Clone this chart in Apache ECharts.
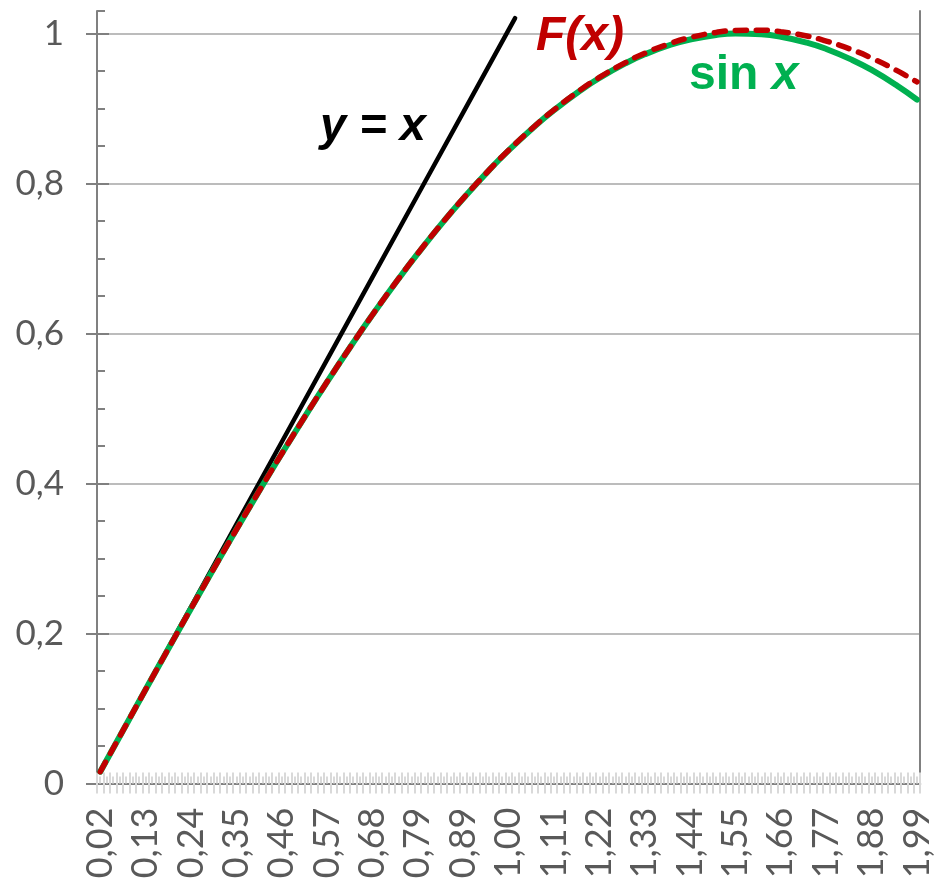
<!DOCTYPE html>
<html><head><meta charset="utf-8">
<script src="https://cdn.jsdelivr.net/npm/echarts@6/dist/echarts.min.js"></script>
<style>html,body{margin:0;padding:0;background:#fff}#chart{width:935px;height:883px}</style>
</head><body><div id="chart"></div>
<script>
// x categories: 127 points, a label every 7th one
const xTickLabels = ['0,02','0,13','0,24','0,35','0,46','0,57','0,68','0,79','0,89','1,00','1,11','1,22','1,33','1,44','1,55','1,66','1,77','1,88','1,99'];
const categoryCount = 127;
const labelEvery = 7;
const yTicks = [0, 0.2, 0.4, 0.6, 0.8, 1];

// values at category indices
const sampleIdx = [0,4,7,11,14,18,21,25,28,32,35,39,42,46,49,53,56,60,63,67,70,74,77,81,84,88,91,95,98,102,105,109,112,116,119,123,126];
const sinValues = [0.0157,0.0784,0.1253,0.1873,0.2333,0.2939,0.3386,0.3970,0.4397,0.4952,0.5356,0.5875,0.6250,0.6727,0.7068,0.7498,0.7801,0.8179,0.8441,0.8760,0.8978,0.9237,0.9407,0.9601,0.9722,0.9850,0.9920,0.9980,0.9999,0.9989,0.9956,0.9878,0.9794,0.9648,0.9514,0.9301,0.9118];
const fValues   = [0.0157,0.0784,0.1253,0.1873,0.2333,0.2939,0.3386,0.3970,0.4397,0.4952,0.5356,0.5875,0.6250,0.6728,0.7069,0.7499,0.7802,0.8180,0.8443,0.8764,0.8982,0.9243,0.9415,0.9612,0.9737,0.9870,0.9946,1.0014,1.0041,1.0045,1.0024,0.9966,0.9899,0.9782,0.9673,0.9501,0.9354];
const lineIdx    = [0,7,14,21,28,35,42,49,56,63,64];
const lineValues = [0.0157,0.1256,0.2355,0.3454,0.4553,0.5652,0.6751,0.7850,0.8949,1.0048,1.0205];

const cats = Array.from({length: categoryCount}, (_, i) => String(i));
const halfCats = Array.from({length: categoryCount * 2}, (_, i) => 'h' + i);

const AX = '#808080', GRID = '#bcbcbc', LIGHT = '#d9d9d9', TXT = '#595959';
const fmtY = v => String(+(+v).toFixed(2)).replace('.', ',');

const chart = echarts.init(document.getElementById('chart'), null, {renderer: 'canvas'});
chart.setOption({
  animation: false,
  backgroundColor: '#fff',
  grid: {left: 97, right: 13, top: 11, bottom: 99.5, containLabel: false},
  xAxis: [
    { type: 'category', data: cats, position: 'bottom', boundaryGap: true,
      axisLine: {show: true, lineStyle: {color: LIGHT, width: 2}},
      axisTick: {show: true, inside: false, length: 10, interval: 0, lineStyle: {color: LIGHT, width: 2}},
      axisLabel: {show: true, interval: labelEvery - 1, rotate: 90, margin: 24, color: TXT,
        fontFamily: 'Lato', fontSize: 36,
        formatter: (v, i) => (i % labelEvery === 0 ? xTickLabels[i / labelEvery] : '')},
      splitLine: {show: false} },
    { type: 'category', data: cats, position: 'bottom', boundaryGap: true,
      axisLine: {show: false},
      axisTick: {show: true, inside: true, length: 11, interval: 0, lineStyle: {color: LIGHT, width: 2}},
      axisLabel: {show: false}, splitLine: {show: false} },
    { type: 'category', data: halfCats, position: 'bottom', boundaryGap: true,
      axisLine: {show: false},
      axisTick: {show: true, inside: true, length: 7, interval: 0, lineStyle: {color: LIGHT, width: 2}},
      axisLabel: {show: false}, splitLine: {show: false} },
    { type: 'category', data: cats, position: 'top', boundaryGap: true,
      axisLine: {show: true, lineStyle: {color: AX, width: 2}},
      axisTick: {show: false}, axisLabel: {show: false}, splitLine: {show: false} }
  ],
  yAxis: [
    { type: 'value', min: 0, max: 1.03, interval: 0.2, position: 'left',
      axisLine: {show: true, onZero: false, lineStyle: {color: AX, width: 2}},
      axisTick: {show: true, inside: false, length: 11, customValues: yTicks, lineStyle: {color: AX, width: 2}},
      axisLabel: {show: true, customValues: yTicks, margin: 33, color: TXT, fontFamily: 'Lato', fontSize: 35, formatter: fmtY},
      splitLine: {show: true, lineStyle: {color: GRID, width: 2}} },
    { type: 'value', min: 0, max: 1.03, interval: 0.05, position: 'left',
      axisLine: {show: false},
      axisTick: {show: true, inside: true, length: 8, lineStyle: {color: AX, width: 2}},
      axisLabel: {show: false}, splitLine: {show: false} },
    { type: 'value', min: 0, max: 1.03, interval: 0.2, position: 'left',
      axisLine: {show: false},
      axisTick: {show: true, inside: true, length: 12, customValues: yTicks, lineStyle: {color: AX, width: 2}},
      axisLabel: {show: false}, splitLine: {show: false} },
    { type: 'value', min: 0, max: 1.03, position: 'right',
      axisLine: {show: true, lineStyle: {color: AX, width: 2}},
      axisTick: {show: false}, axisLabel: {show: false}, splitLine: {show: false} }
  ],
  series: [
    { name: 'y = x', type: 'line', xAxisIndex: 0, yAxisIndex: 0, symbol: 'none', z: 3,
      data: lineIdx.map((k, i) => [k, lineValues[i]]),
      lineStyle: {color: '#000000', width: 4.5, cap: 'round'} },
    { name: 'sin x', type: 'line', xAxisIndex: 0, yAxisIndex: 0, symbol: 'none', smooth: true, z: 4,
      data: sampleIdx.map((k, i) => [k, sinValues[i]]),
      lineStyle: {color: '#00b050', width: 6, cap: 'round'} },
    { name: 'F(x)', type: 'line', xAxisIndex: 0, yAxisIndex: 0, symbol: 'none', smooth: true, z: 5,
      data: sampleIdx.map((k, i) => [k, fValues[i]]),
      lineStyle: {color: '#c00000', width: 5.5, type: [11, 10], cap: 'round'} }
  ],
  graphic: [
    { type: 'text', x: 320, y: 127, z: 10,
      style: {text: 'y = x', fontFamily: 'Liberation Sans', fontWeight: 'bold', fontStyle: 'italic', fontSize: 47,
        fill: '#000000', align: 'left', verticalAlign: 'middle'} },
    { type: 'text', x: 536, y: 37, z: 10,
      style: {text: 'F(x)', fontFamily: 'Liberation Sans', fontWeight: 'bold', fontStyle: 'italic', fontSize: 48,
        fill: '#c00000', align: 'left', verticalAlign: 'middle'} },
    { type: 'text', x: 689, y: 76, z: 10,
      style: {text: '{a|sin }{b|x}', align: 'left', verticalAlign: 'middle',
        rich: {
          a: {fontFamily: 'Liberation Sans', fontWeight: 'bold', fontSize: 48, fill: '#00b050'},
          b: {fontFamily: 'Liberation Sans', fontWeight: 'bold', fontStyle: 'italic', fontSize: 48, fill: '#00b050'}
        }} }
  ]
});
</script></body></html>
